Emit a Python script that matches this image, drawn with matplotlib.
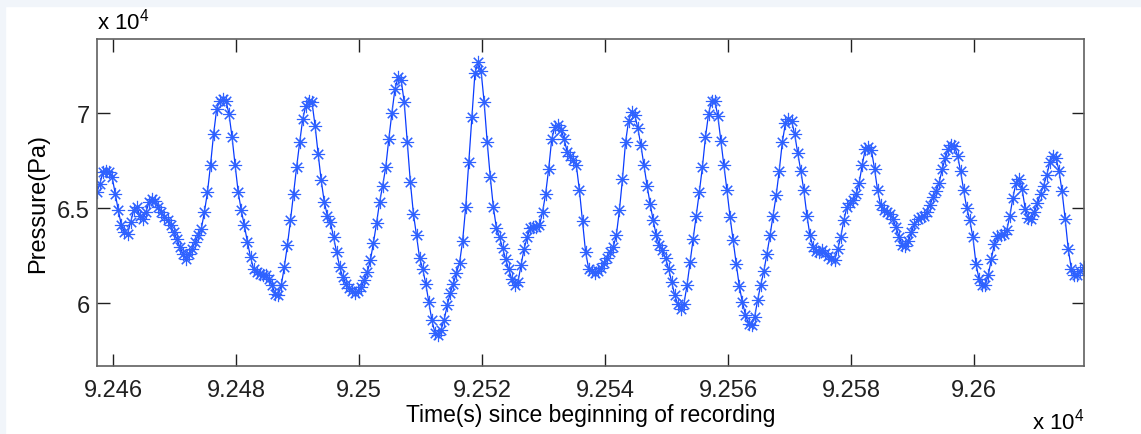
import matplotlib.pyplot as plt
import numpy as np
from matplotlib.patches import Rectangle

plt.rcParams["font.family"] = ["Liberation Sans", "DejaVu Sans"]
plt.rcParams["mathtext.fontset"] = "custom"
plt.rcParams["mathtext.rm"] = "Liberation Sans"

# pressure record, one sample every 0.5 s
t_start = 92457.32   # s since beginning of recording
dt = 0.5
pressure = [
    65840, 66280, 66900, 66980, 66900, 66630, 65750, 64880, 64090, 63740,
    63650, 64260, 64880, 65050, 64610, 64440, 64790, 65320, 65490, 65400,
    65050, 64790, 64530, 64350, 64090, 63740, 63390, 62950, 62600, 62330,
    62600, 62860, 63210, 63560, 63910, 64790, 65840, 67280, 68910, 70230,
    70670, 70750, 70670, 69960, 68740, 67250, 65840, 64880, 64090, 63210,
    62420, 61810, 61630, 61550, 61460, 61460, 61280, 60930, 60490, 60410,
    60930, 61900, 63040, 64350, 65750, 67160, 68470, 69700, 70400, 70670,
    70580, 69350, 67860, 66460, 65320, 64610, 64260, 63470, 62690, 61900,
    61370,
    61020, 60790, 60630, 60550, 60620, 60840, 61190, 61630, 62250, 63180,
    64210, 65320, 66190, 67160, 68650, 70020, 71280, 71890, 71770, 70580,
    68470, 66370, 64700, 63560, 62370, 61810, 61020, 60050, 59090, 58440,
    58300, 58600, 59120, 59880, 60550, 61020, 61600, 62120, 63260, 65050,
    67420, 69790, 72100, 72680, 72240, 70580, 68470, 66630, 65050, 63950,
    63460, 62900, 62300, 61770, 61250, 60930, 61110, 61980, 62860, 63460,
    63970, 64000, 63980, 64090, 64790, 65750, 67070, 68650, 69260, 69390,
    69140, 68650, 67980, 67720, 67510, 67250, 65930, 64300, 62690, 61810,
    61670, 61560, 61670, 61840, 62110, 62370, 62690, 62950, 63560, 64880,
    66540, 68470, 69610, 70090, 69910, 69210, 68300, 67250, 66190, 65230,
    64350, 63560, 63040, 62770, 62370, 61810, 61110, 60410, 59930, 59670,
    59970, 60930, 62160, 63390, 64610, 65840, 67160, 68740, 69960, 70670,
    70670, 69880, 68560, 67280, 65930, 64530, 63300, 62070, 60900, 60050,
    59390, 58910, 58860, 59270, 60180, 60970, 61690, 62600, 63560, 64610,
    65670, 66980, 68470, 69470, 69700, 69610, 68910, 67910, 66980, 65930,
    64610, 63560, 62950, 62720, 62690, 62770, 62650, 62470, 62330, 62250,
    62830, 63470, 64350, 65050, 65280, 65440, 65720, 66330, 67280, 68120,
    68210, 68040, 67070, 65930, 65140, 64880, 64790, 64700, 64400, 64000,
    63470, 63070, 62980, 63250, 63740, 64180, 64400, 64530, 64610, 64790,
    65140, 65580, 65880, 66330, 67040, 67630, 68120, 68330, 68260, 67770,
    66930, 65930, 65000, 64350, 63470, 62070, 61250, 60930, 60970, 61460,
    62330, 63120, 63530, 63600, 63630, 63830, 64580, 65530, 66330, 66540,
    66020, 64970, 64490, 64440, 64790, 65260, 65750, 66190, 66720, 67420,
    67740, 67650, 66980, 65880, 64440, 62860, 61810, 61490, 61490, 61670,
    61900,
]

xticks = [92460, 92480, 92500, 92520, 92540, 92560, 92580, 92600]
xticklabels = ["9.246", "9.248", "9.25", "9.252", "9.254", "9.256", "9.258", "9.26"]
yticks = [60000, 65000, 70000]
yticklabels = ["6", "6.5", "7"]
xlim = (92457.35, 92617.9)
ylim = (56680, 73910)

t = t_start + dt * np.arange(len(pressure))

fig = plt.figure(figsize=(11.41, 4.35), dpi=100)
# pale window border of the screenshot (top and left)
fig.patches.append(Rectangle((0, 1 - 7 / 435), 1, 7 / 435, transform=fig.transFigure,
                             color="#f1f5fa", zorder=0))
fig.patches.append(Rectangle((0, 0), 5 / 1141, 1, transform=fig.transFigure,
                             color="#f1f5fa", zorder=0))

ax = fig.add_axes([0.0850, 0.1563, 0.8651, 0.7517])
ax.plot(t, pressure, "-", color="#0a3cff", lw=0.9,
        marker=(8, 2, 0), ms=9.5, mew=0.8, mec="#2f62ff")

ax.set_xlim(*xlim)
ax.set_ylim(*ylim)
ax.set_xticks(xticks)
ax.set_xticklabels(xticklabels)
ax.set_yticks(yticks)
ax.set_yticklabels(yticklabels)
ax.tick_params(direction="in", length=9, width=1, top=True, right=True,
               labelsize=17, colors="#202020")
ax.tick_params(axis="x", pad=9)
ax.tick_params(axis="y", pad=5)
for s in ax.spines.values():
    s.set_color("#606060")
    s.set_linewidth(1.2)

ax.set_xlabel("Time(s) since beginning of recording", fontsize=16.5, labelpad=2)
ax.set_ylabel("Pressure(Pa)", fontsize=17, labelpad=6)

fig.text(0.085, 0.932, r"x 10$^{4}$", fontsize=16, ha="left", va="baseline")
fig.text(0.950, 0.012, r"x 10$^{4}$", fontsize=16, ha="right", va="baseline")

fig.savefig("out.png", dpi=100)
